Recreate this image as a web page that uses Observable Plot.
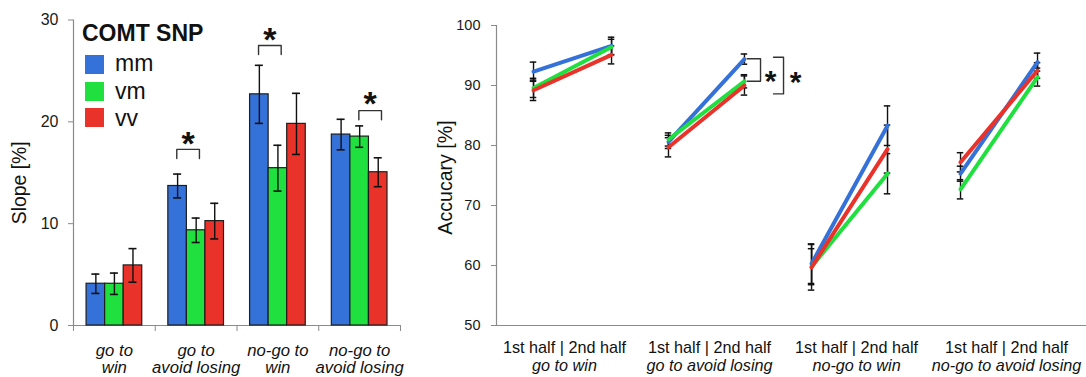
<!DOCTYPE html>
<html>
<head>
<meta charset="utf-8">
<script src="https://cdn.jsdelivr.net/npm/d3@7"></script>
<script src="https://cdn.jsdelivr.net/npm/@observablehq/plot@0.6"></script>
<style>
  html, body { margin: 0; padding: 0; background: #fff; }
  #wrap { position: relative; width: 1086px; height: 377px; overflow: hidden;
          font-family: "Liberation Sans", Arial, sans-serif; color: #111; }
  #left { position: absolute; left: 0; top: 0; }
  #right { position: absolute; left: 420px; top: 0; }
  #legend { position: absolute; left: 0; top: 0; }
  #legend .title { position: absolute; left: 82px; top: 22px; font-size: 23px; line-height: 23px; font-weight: bold; white-space: nowrap; }
  #legend .sw { position: absolute; left: 85px; width: 19px; height: 19px; }
  #legend .lab { position: absolute; left: 115px; font-size: 23px; line-height: 23px; white-space: nowrap; }
</style>
</head>
<body>
<div id="wrap">
  <div id="left"></div>
  <div id="right"></div>
  <div id="legend"></div>
</div>
<script>
// ---------- data: left panel (Slope) ----------
const groupLine1 = ["go to", "go to", "no-go to", "no-go to"];
const groupLine2 = ["win", "avoid losing", "win", "avoid losing"];
const genotypes = ["mm", "vm", "vv"];
const genoColors = ["#3471D8", "#1FE03E", "#E9322A"];
const slopeMM = [4.1, 13.7, 22.7, 18.75];
const slopeVM = [4.1, 9.35, 15.45, 18.55];
const slopeVV = [5.9, 10.25, 19.8, 15.05];
const slopeErrMM = [0.95, 1.17, 2.85, 1.5];
const slopeErrVM = [1.05, 1.2, 2.25, 1.05];
const slopeErrVV = [1.65, 1.75, 3.0, 1.42];
const slopeTicks = [0, 10, 20, 30];
// significance brackets (left): group, pair of genotypes, bracket level
const slopeSigGroup = [1, 2, 3];
const slopeSigPair = [[0, 1], [0, 1], [1, 2]];
const slopeSigTop = [17.3, 27.5, 21.1];
const slopeSigLeg = [16.4, 26.6, 20.2];
const slopeSigStar = [18.7, 28.95, 22.6];

// ---------- data: right panel (Accuracy) ----------
const halves = ["1st half", "2nd half"];
const accGroups = ["go to win", "go to avoid losing", "no-go to win", "no-go to avoid losing"];
const accPos = [0.251, 0.78, 1.166, 1.681, 2.136, 2.651, 3.146, 3.668];
const accLabelPos = [0.461, 1.444, 2.441, 3.458];
const accMM = [92.3, 96.6, 80.6, 94.4, 60.3, 83.3, 75.3, 93.9];
const accVM = [89.6, 96.4, 81.0, 90.7, 59.8, 75.3, 72.7, 91.4];
const accVV = [89.2, 95.1, 79.7, 90.0, 59.7, 79.4, 77.2, 92.5];
const accErrMM = [1.6, 1.45, 1.1, 0.85, 3.3, 3.3, 1.25, 1.5];
const accErrVM = [1.6, 1.3, 1.1, 1.1, 3.0, 3.35, 1.6, 1.5];
const accErrVV = [1.7, 1.5, 1.6, 1.6, 3.8, 4.0, 1.6, 1.3];
const accTicks = [50, 60, 70, 80, 90, 100];
// significance brackets (right): top, bottom, horizontal start, vertical x, star position
const accSigTop = [94.45, 94.7];
const accSigBottom = [90.7, 88.6];
const accSigX1 = [1.70, 1.878];
const accSigX2 = [1.79, 1.946];
const accSigStarX = [1.858, 2.027];
const accSigStarY = [92.0, 91.85];

// ---------- build tables ----------
const colorOf = g => genoColors[genotypes.indexOf(g)];
const slopeVals = [slopeMM, slopeVM, slopeVV];
const slopeErrs = [slopeErrMM, slopeErrVM, slopeErrVV];
const BAR_OFF = 0.16, BAR_W = 0.227, CAP_L = 0.049;
const bars = [];
for (let g = 0; g < 4; g++) for (let k = 0; k < 3; k++) {
  bars.push({group: g, k, geno: genotypes[k], value: slopeVals[k][g], err: slopeErrs[k][g],
    x1: g + BAR_OFF + k * BAR_W, x2: g + BAR_OFF + (k + 1) * BAR_W, xc: g + BAR_OFF + (k + 0.5) * BAR_W});
}
const caps = bars.flatMap(d => [d.value - d.err, d.value + d.err].map(y => ({...d, y})));
const brackets = [];
const stars = [];
slopeSigGroup.forEach((g, i) => {
  const [a, b] = slopeSigPair[i];
  const xa = g + BAR_OFF + (a + 0.5) * BAR_W - 0.01;
  const xb = g + BAR_OFF + (b + 0.5) * BAR_W + 0.04;
  brackets.push({id: i, x: xa, y: slopeSigLeg[i]}, {id: i, x: xa, y: slopeSigTop[i]},
                {id: i, x: xb, y: slopeSigTop[i]}, {id: i, x: xb, y: slopeSigLeg[i]});
  stars.push({x: (xa + xb) / 2, y: slopeSigStar[i]});
});
const groupIdx = [0, 1, 2, 3];

const axisGrey = "#8a8a8a";
const left = Plot.plot({
  width: 420, height: 377,
  marginLeft: 73, marginRight: 20, marginTop: 19.5, marginBottom: 52,
  x: {domain: [0, 4], axis: null},
  y: {domain: [0, 30], axis: null},
  style: {fontFamily: "Liberation Sans, Arial, sans-serif", fontSize: "16px", background: "white", overflow: "visible"},
  marks: [
    Plot.axisY({ticks: slopeTicks, tickSize: 5, tickPadding: 10, stroke: axisGrey, fill: "#1a1a1a", fontSize: 16, label: null}),
    Plot.axisX({ticks: [0, 1, 2, 3, 4], tickSize: 6, tickFormat: () => "", stroke: axisGrey, label: null}),
    Plot.ruleX([0], {stroke: axisGrey, strokeWidth: 1.2}),
    Plot.ruleY([0], {stroke: axisGrey, strokeWidth: 1.2}),
    Plot.rectY(bars, {x1: "x1", x2: "x2", y1: 0, y2: "value", fill: d => colorOf(d.geno), stroke: "#1e1e1e", strokeWidth: 1.2}),
    Plot.ruleX(bars, {x: "xc", y1: d => d.value - d.err, y2: d => d.value + d.err, stroke: "#111", strokeWidth: 1.4}),
    Plot.ruleY(caps, {y: "y", x1: d => d.xc - CAP_L, x2: d => d.xc + CAP_L, stroke: "#111", strokeWidth: 1.6}),
    Plot.line(brackets, {x: "x", y: "y", z: "id", stroke: "#333", strokeWidth: 1.4}),
    Plot.text(stars, {x: "x", y: "y", text: () => "*", fontSize: 34, fontWeight: "bold", lineAnchor: "bottom", dy: 20, fill: "#111"}),
    Plot.text(groupIdx, {x: g => g + 0.5, frameAnchor: "bottom", text: g => groupLine1[g], lineAnchor: "bottom", dy: 30, fontSize: 16.7, fontStyle: "italic", fill: "#111"}),
    Plot.text(groupIdx, {x: g => g + 0.5, frameAnchor: "bottom", text: g => groupLine2[g], lineAnchor: "bottom", dy: 47.5, fontSize: 16.7, fontStyle: "italic", fill: "#111"}),
    Plot.text(["Slope [%]"], {frameAnchor: "left", text: d => d, rotate: -90, textAnchor: "middle", lineAnchor: "middle", dx: -54, dy: 10, fontSize: 19.4, fill: "#111"})
  ]
});
document.getElementById("left").appendChild(left);

// legend
const legend = document.getElementById("legend");
legend.innerHTML = `<div class="title">COMT SNP</div>` +
  genotypes.map((g, i) => `<div class="sw" style="top:${55 + i * 26.7}px;background:${genoColors[i]}"></div>` +
    `<div class="lab" style="top:${52.2 + i * 27.5}px">${g}</div>`).join("");

// ---------- right panel ----------
const accVals = [accMM, accVM, accVV];
const accErrs = [accErrMM, accErrVM, accErrVV];
const accRows = [];
for (let k = 0; k < 3; k++) for (let i = 0; i < 8; i++) {
  accRows.push({geno: genotypes[k], group: Math.floor(i / 2), half: halves[i % 2], x: accPos[i], value: accVals[k][i], err: accErrs[k][i]});
}
const accCaps = accRows.flatMap(d => [d.value - d.err, d.value + d.err].map(y => ({...d, y})));
const CAP_R = 0.022;
const accBr = [];
accSigTop.forEach((t, i) => {
  accBr.push({id: i, x: accSigX1[i], y: t}, {id: i, x: accSigX2[i], y: t},
             {id: i, x: accSigX2[i], y: accSigBottom[i]}, {id: i, x: accSigX1[i], y: accSigBottom[i]});
});
const accStars = accSigStarX.map((x, i) => ({x, y: accSigStarY[i]}));

const right = Plot.plot({
  width: 666, height: 377,
  marginLeft: 76, marginRight: 0, marginTop: 25, marginBottom: 52,
  x: {domain: [0, 4], axis: null},
  y: {domain: [50, 100], axis: null},
  style: {fontFamily: "Liberation Sans, Arial, sans-serif", fontSize: "14.5px", background: "white", overflow: "visible"},
  marks: [
    Plot.axisY({ticks: accTicks, tickSize: 5, tickPadding: 11, stroke: axisGrey, fill: "#1a1a1a", fontSize: 14.5, label: null}),
    Plot.ruleX([0], {stroke: axisGrey, strokeWidth: 1.2}),
    Plot.ruleY([50], {stroke: axisGrey, strokeWidth: 1.2}),
    Plot.ruleX(accRows, {x: "x", y1: d => d.value - d.err, y2: d => d.value + d.err, stroke: "#111", strokeWidth: 1.4}),
    Plot.ruleY(accCaps, {y: "y", x1: d => d.x - CAP_R, x2: d => d.x + CAP_R, stroke: "#111", strokeWidth: 1.5}),
    Plot.line(accRows, {x: "x", y: "value", z: d => d.geno + d.group, stroke: d => colorOf(d.geno), strokeWidth: 4, strokeLinecap: "round"}),
    Plot.line(accBr, {x: "x", y: "y", z: "id", stroke: "#333", strokeWidth: 1.4}),
    Plot.text(accStars, {x: "x", y: "y", text: () => "*", fontSize: 30, fontWeight: "bold", lineAnchor: "bottom", dy: 17.5, fill: "#111"}),
    Plot.text(accLabelPos, {x: d => d, frameAnchor: "bottom", text: () => halves.join(" | "), lineAnchor: "bottom", dy: 27, fontSize: 16.2, fill: "#111"}),
    Plot.text(accLabelPos, {x: d => d, frameAnchor: "bottom", text: (d, i) => accGroups[i], lineAnchor: "bottom", dy: 45.5, fontSize: 16.2, fontStyle: "italic", fill: "#111"}),
    Plot.text(["Accucary [%]"], {frameAnchor: "left", text: d => d, rotate: -90, textAnchor: "middle", lineAnchor: "middle", dx: -51, dy: 2, fontSize: 19.6, fill: "#111"})
  ]
});
document.getElementById("right").appendChild(right);
</script>
</body>
</html>
